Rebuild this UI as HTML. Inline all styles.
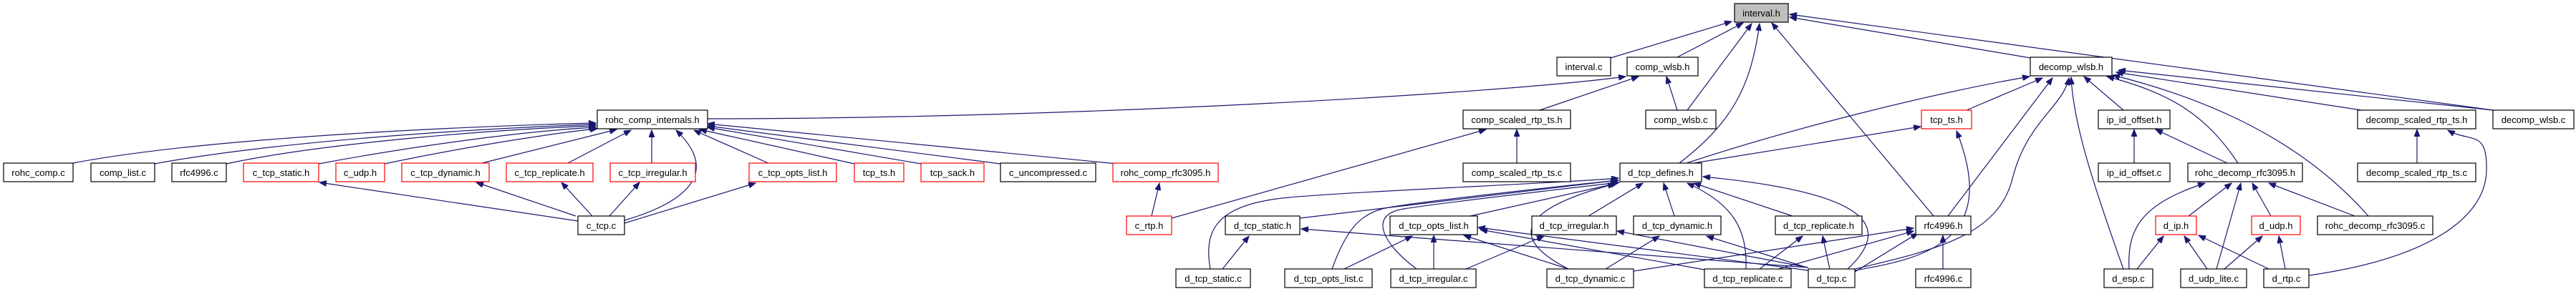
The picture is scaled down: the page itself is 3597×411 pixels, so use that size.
<!DOCTYPE html>
<html><head><meta charset="utf-8"><style>
html,body{margin:0;padding:0;background:#fff}
svg{display:block}
text{font-family:"Liberation Sans",sans-serif;font-size:13px;fill:#000}
.e{fill:none;stroke:#191970;stroke-width:1.2;marker-end:url(#a)}
.n{fill:#fff;stroke:#000;stroke-width:1.2}
.r{fill:#fff;stroke:#ff0000;stroke-width:1.2}
</style></head><body>
<svg width="3597" height="411" viewBox="0 0 3597 411" xmlns="http://www.w3.org/2000/svg">
<defs><marker id="a" markerUnits="userSpaceOnUse" markerWidth="11" markerHeight="8" refX="10" refY="4" orient="auto"><path d="M0,0 L10,4 L0,8 z" fill="#191970" stroke="#191970"/></marker></defs>
<g>
<!-- to interval.h -->
<path class="e" d="M2249,81 L2418,30"/>
<path class="e" d="M2342,80 L2434,32"/>
<path class="e" d="M2356,154 L2446,33"/>
<path class="e" d="M2345,228 C2420,170 2445,120 2457,33"/>
<path class="e" d="M2700,302 L2474,32"/>
<path class="e" d="M2835,81 L2499,24"/>
<path class="e" d="M3481,154 L2499,20"/>
<!-- to comp_wlsb.h -->
<path class="e" d="M988,166 C1500,166 2100,130 2270,107"/>
<path class="e" d="M2150,154 L2288,107"/>
<path class="e" d="M2342,154 L2327,107"/>
<!-- to rohc_comp_internals.h -->
<path class="e" d="M102,228 C300,190 700,175 832,172"/>
<path class="e" d="M216,229 C400,195 700,178 832,174"/>
<path class="e" d="M316,229 C450,200 700,180 832,176"/>
<path class="e" d="M445,229 C600,200 750,182 832,178"/>
<path class="e" d="M537,229 C650,205 780,185 834,180"/>
<path class="e" d="M669,229 L861,181"/>
<path class="e" d="M791,229 L881,182"/>
<path class="e" d="M910,229 L910,182"/>
<path class="e" d="M872,308 C950,285 1010,245 944,182"/>
<path class="e" d="M1075,229 L969,182"/>
<path class="e" d="M1193,229 L977,181"/>
<path class="e" d="M1286,229 L988,178"/>
<path class="e" d="M1397,229 L988,176"/>
<path class="e" d="M1560,229 L988,173"/>
<!-- c_tcp.c -->
<path class="e" d="M807,309 L446,255"/>
<path class="e" d="M804,302 L665,255"/>
<path class="e" d="M827,302 L784,255"/>
<path class="e" d="M851,302 L893,255"/>
<path class="e" d="M872,312 L1055,256"/>
<!-- c_rtp.h -->
<path class="e" d="M1608,302 L1619,256"/>
<path class="e" d="M1636,305 L2075,181"/>
<path class="e" d="M2118,228 L2118,181"/>
<!-- to d_tcp_defines.h -->
<path class="e" d="M2365,228 L2682,177"/>
<path class="e" d="M2355,228 C2500,180 2700,130 2834,107"/>
<path class="e" d="M1815,305 L2259,252"/>
<path class="e" d="M1690,376 C1680,320 1700,285 1800,276 S2200,255 2260,249"/>
<path class="e" d="M1860,376 C1880,320 1900,300 1930,292 S2200,258 2260,252"/>
<path class="e" d="M1978,376 C1930,340 1910,300 1960,292 S2200,262 2261,255"/>
<path class="e" d="M2053,302 L2259,256"/>
<path class="e" d="M2190,376 C2100,330 2130,290 2255,257"/>
<path class="e" d="M2218,302 L2294,256"/>
<path class="e" d="M2338,302 L2323,256"/>
<path class="e" d="M2438,376 C2440,320 2420,285 2356,256"/>
<path class="e" d="M2503,302 L2365,256"/>
<path class="e" d="M2580,376 C2640,320 2620,270 2378,247"/>
<!-- rfc4996.h -->
<path class="e" d="M2713,376 L2713,329"/>
<path class="e" d="M2590,380 L2678,326"/>
<path class="e" d="M2483,376 L2672,323"/>
<path class="e" d="M2281,379 L2672,319"/>
<path class="e" d="M2720,302 L2866,109"/>
<path class="e" d="M2590,378 C2700,360 2790,330 2732,183"/>
<path class="e" d="M2590,376 C2700,350 2790,330 2810,250 S2880,150 2889,109"/>
<path class="e" d="M2746,154 L2852,109"/>
<!-- d_tcp.c others -->
<path class="e" d="M2525,374 L1817,320"/>
<path class="e" d="M2525,378 L2064,318"/>
<path class="e" d="M2525,374 L2258,323"/>
<path class="e" d="M2523,374 L2383,330"/>
<path class="e" d="M2555,376 L2545,330"/>
<path class="e" d="M2457,376 L2517,330"/>
<path class="e" d="M2380,377 L2067,321"/>
<path class="e" d="M2242,376 L2317,330"/>
<path class="e" d="M2190,376 L2044,329"/>
<path class="e" d="M2002,376 L2002,329"/>
<path class="e" d="M2047,376 L2156,330"/>
<path class="e" d="M1877,376 L1972,330"/>
<path class="e" d="M1707,376 L1744,330"/>
<!-- decomp side -->
<path class="e" d="M2965,154 L2910,107"/>
<path class="e" d="M3125,228 C3080,160 3030,130 2942,107"/>
<path class="e" d="M3307,302 C3200,180 3050,130 2950,105"/>
<path class="e" d="M3297,154 L2955,101"/>
<path class="e" d="M3481,154 L2958,98"/>
<path class="e" d="M2965,376 C2920,250 2895,170 2892,108"/>
<path class="e" d="M2980,228 L2980,181"/>
<path class="e" d="M3110,228 L3010,181"/>
<path class="e" d="M3375,228 L3375,181"/>
<path class="e" d="M3224,385 C3400,360 3470,300 3472,240 S3450,200 3418,182"/>
<path class="e" d="M3056,302 L3116,256"/>
<path class="e" d="M3171,302 L3145,256"/>
<path class="e" d="M3288,302 L3168,256"/>
<path class="e" d="M2973,376 C2970,320 2990,285 3079,256"/>
<path class="e" d="M3095,376 L3129,256"/>
<path class="e" d="M2984,376 L3021,330"/>
<path class="e" d="M3082,376 L3050,330"/>
<path class="e" d="M3168,376 L3070,329"/>
<path class="e" d="M3106,376 L3159,330"/>
<path class="e" d="M3191,376 L3182,330"/>
</g>
<g>
<rect class="n" x="5" y="228" width="97" height="26"/><text x="53.5" y="246" text-anchor="middle">rohc_comp.c</text>
<rect class="n" x="127" y="228" width="89" height="26"/><text x="171.5" y="246" text-anchor="middle">comp_list.c</text>
<rect class="n" x="240" y="228" width="76" height="26"/><text x="278" y="246" text-anchor="middle">rfc4996.c</text>
<rect class="r" x="340" y="228" width="105" height="26"/><text x="392.5" y="246" text-anchor="middle">c_tcp_static.h</text>
<rect class="r" x="469" y="228" width="68" height="26"/><text x="503" y="246" text-anchor="middle">c_udp.h</text>
<rect class="r" x="561" y="228" width="122" height="26"/><text x="622" y="246" text-anchor="middle">c_tcp_dynamic.h</text>
<rect class="r" x="707" y="228" width="121" height="26"/><text x="767.5" y="246" text-anchor="middle">c_tcp_replicate.h</text>
<rect class="r" x="852" y="228" width="119" height="26"/><text x="911.5" y="246" text-anchor="middle">c_tcp_irregular.h</text>
<rect class="n" x="834" y="154" width="154" height="26"/><text x="911" y="172" text-anchor="middle">rohc_comp_internals.h</text>
<rect class="n" x="807" y="302" width="65" height="26"/><text x="839.5" y="320" text-anchor="middle">c_tcp.c</text>
<rect class="r" x="1046" y="228" width="122" height="26"/><text x="1107" y="246" text-anchor="middle">c_tcp_opts_list.h</text>
<rect class="r" x="1193" y="228" width="69" height="26"/><text x="1227.5" y="246" text-anchor="middle">tcp_ts.h</text>
<rect class="r" x="1286" y="228" width="88" height="26"/><text x="1330" y="246" text-anchor="middle">tcp_sack.h</text>
<rect class="n" x="1397" y="228" width="133" height="26"/><text x="1463.5" y="246" text-anchor="middle">c_uncompressed.c</text>
<rect class="r" x="1554" y="228" width="147" height="26"/><text x="1627.5" y="246" text-anchor="middle">rohc_comp_rfc3095.h</text>
<rect class="r" x="1573" y="302" width="63" height="26"/><text x="1604.5" y="320" text-anchor="middle">c_rtp.h</text>
<rect class="n" x="1711" y="302" width="104" height="26"/><text x="1763" y="320" text-anchor="middle">d_tcp_static.h</text>
<rect class="n" x="1642" y="376" width="104" height="26"/><text x="1694" y="394" text-anchor="middle">d_tcp_static.c</text>
<rect class="n" x="1794" y="376" width="122" height="26"/><text x="1855" y="394" text-anchor="middle">d_tcp_opts_list.c</text>
<rect x="2422" y="5" width="75" height="26" fill="#bfbfbf" stroke="#000" stroke-width="1.2"/><text x="2459.5" y="23" text-anchor="middle">interval.h</text>
<rect class="n" x="2174" y="80" width="75" height="26"/><text x="2211.5" y="98" text-anchor="middle">interval.c</text>
<rect class="n" x="2272" y="80" width="99" height="26"/><text x="2321.5" y="98" text-anchor="middle">comp_wlsb.h</text>
<rect class="n" x="2043" y="154" width="150" height="26"/><text x="2118" y="172" text-anchor="middle">comp_scaled_rtp_ts.h</text>
<rect class="n" x="2298" y="154" width="98" height="26"/><text x="2347" y="172" text-anchor="middle">comp_wlsb.c</text>
<rect class="n" x="2043" y="228" width="150" height="26"/><text x="2118" y="246" text-anchor="middle">comp_scaled_rtp_ts.c</text>
<rect class="n" x="2262" y="228" width="114" height="26"/><text x="2319" y="246" text-anchor="middle">d_tcp_defines.h</text>
<rect class="n" x="1941" y="302" width="122" height="26"/><text x="2002" y="320" text-anchor="middle">d_tcp_opts_list.h</text>
<rect class="n" x="2139" y="302" width="118" height="26"/><text x="2198" y="320" text-anchor="middle">d_tcp_irregular.h</text>
<rect class="n" x="2281" y="302" width="122" height="26"/><text x="2342" y="320" text-anchor="middle">d_tcp_dynamic.h</text>
<rect class="n" x="2479" y="302" width="121" height="26"/><text x="2539.5" y="320" text-anchor="middle">d_tcp_replicate.h</text>
<rect class="n" x="2675" y="302" width="77" height="26"/><text x="2713.5" y="320" text-anchor="middle">rfc4996.h</text>
<rect class="n" x="1942" y="376" width="119" height="26"/><text x="2001.5" y="394" text-anchor="middle">d_tcp_irregular.c</text>
<rect class="n" x="2160" y="376" width="121" height="26"/><text x="2220.5" y="394" text-anchor="middle">d_tcp_dynamic.c</text>
<rect class="n" x="2380" y="376" width="121" height="26"/><text x="2440.5" y="394" text-anchor="middle">d_tcp_replicate.c</text>
<rect class="n" x="2525" y="376" width="65" height="26"/><text x="2557.5" y="394" text-anchor="middle">d_tcp.c</text>
<rect class="n" x="2675" y="376" width="77" height="26"/><text x="2713.5" y="394" text-anchor="middle">rfc4996.c</text>
<rect class="r" x="2683" y="154" width="70" height="26"/><text x="2718" y="172" text-anchor="middle">tcp_ts.h</text>
<rect class="n" x="2835" y="80" width="114" height="26"/><text x="2892" y="98" text-anchor="middle">decomp_wlsb.h</text>
<rect class="n" x="2930" y="154" width="100" height="26"/><text x="2980" y="172" text-anchor="middle">ip_id_offset.h</text>
<rect class="n" x="3292" y="154" width="165" height="26"/><text x="3374.5" y="172" text-anchor="middle">decomp_scaled_rtp_ts.h</text>
<rect class="n" x="3481" y="154" width="113" height="26"/><text x="3537.5" y="172" text-anchor="middle">decomp_wlsb.c</text>
<rect class="n" x="2930" y="228" width="100" height="26"/><text x="2980" y="246" text-anchor="middle">ip_id_offset.c</text>
<rect class="n" x="3055" y="228" width="160" height="26"/><text x="3135" y="246" text-anchor="middle">rohc_decomp_rfc3095.h</text>
<rect class="n" x="3292" y="228" width="165" height="26"/><text x="3374.5" y="246" text-anchor="middle">decomp_scaled_rtp_ts.c</text>
<rect class="r" x="3010" y="302" width="57" height="26"/><text x="3038.5" y="320" text-anchor="middle">d_ip.h</text>
<rect class="r" x="3144" y="302" width="68" height="26"/><text x="3178" y="320" text-anchor="middle">d_udp.h</text>
<rect class="n" x="3236" y="302" width="161" height="26"/><text x="3316.5" y="320" text-anchor="middle">rohc_decomp_rfc3095.c</text>
<rect class="n" x="2938" y="376" width="68" height="26"/><text x="2972" y="394" text-anchor="middle">d_esp.c</text>
<rect class="n" x="3045" y="376" width="92" height="26"/><text x="3091" y="394" text-anchor="middle">d_udp_lite.c</text>
<rect class="n" x="3161" y="376" width="63" height="26"/><text x="3192.5" y="394" text-anchor="middle">d_rtp.c</text>
</g>
</svg>
</body></html>
